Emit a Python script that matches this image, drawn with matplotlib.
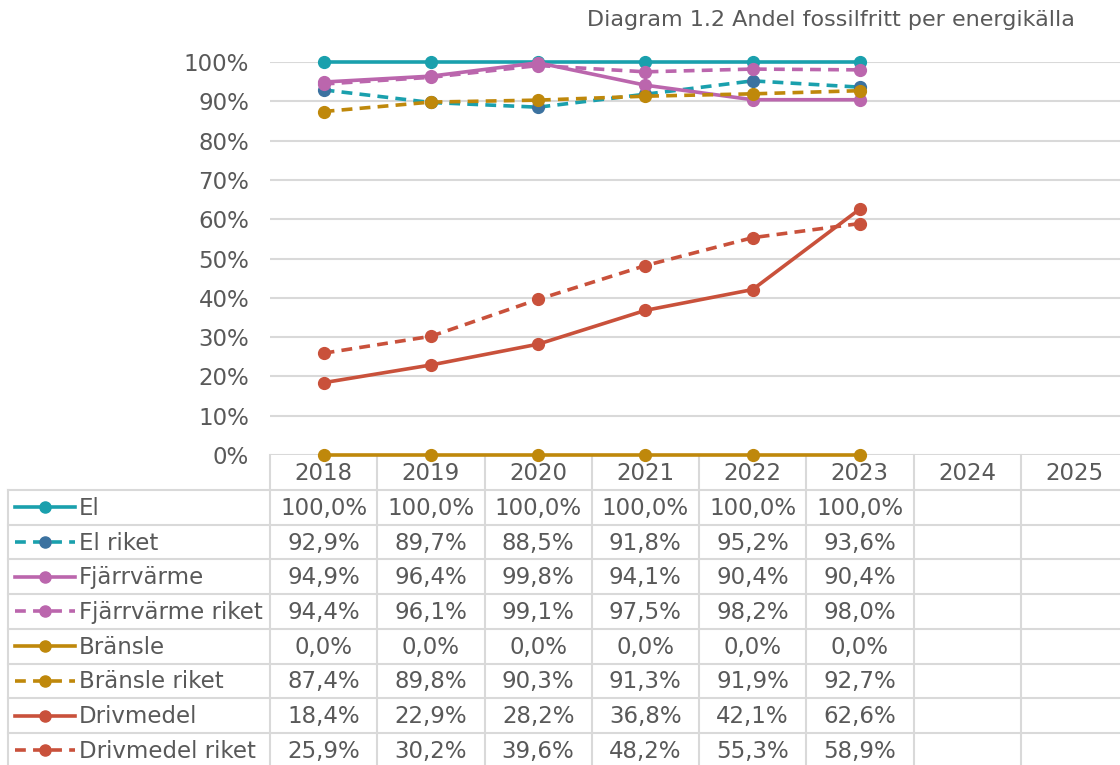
import matplotlib
matplotlib.use("Agg")
import matplotlib.pyplot as plt
from matplotlib.lines import Line2D
from matplotlib.transforms import blended_transform_factory

# data (percent)
years = ["2018", "2019", "2020", "2021", "2022", "2023", "2024", "2025"]
series_names = ["El", "El riket", "Fjärrvärme", "Fjärrvärme riket",
                "Bränsle", "Bränsle riket", "Drivmedel", "Drivmedel riket"]
el = [100.0, 100.0, 100.0, 100.0, 100.0, 100.0]
el_riket = [92.9, 89.7, 88.5, 91.8, 95.2, 93.6]
fjarrvarme = [94.9, 96.4, 99.8, 94.1, 90.4, 90.4]
fjarrvarme_riket = [94.4, 96.1, 99.1, 97.5, 98.2, 98.0]
bransle = [0.0, 0.0, 0.0, 0.0, 0.0, 0.0]
bransle_riket = [87.4, 89.8, 90.3, 91.3, 91.9, 92.7]
drivmedel = [18.4, 22.9, 28.2, 36.8, 42.1, 62.6]
drivmedel_riket = [25.9, 30.2, 39.6, 48.2, 55.3, 58.9]

values = [el, el_riket, fjarrvarme, fjarrvarme_riket,
          bransle, bransle_riket, drivmedel, drivmedel_riket]

TEAL = "#1aa0ad"
BLUE = "#3c72a0"
PINK = "#bb66ad"
GOLD = "#bf880b"
RED = "#c9513b"
GREY = "#595959"
GRID = "#d9d9d9"

line_colors = [TEAL, TEAL, PINK, PINK, GOLD, GOLD, RED, RED]
marker_colors = [TEAL, BLUE, PINK, PINK, GOLD, GOLD, RED, RED]
dashed = [False, True, False, True, False, True, False, True]
DASH = (0, (3, 2))

W, H = 1120, 765
FS = 16.5

fig = plt.figure(figsize=(W / 100, H / 100), dpi=100)

# chart area
ax = fig.add_axes([270 / W, 1 - 455 / H, 858 / W, 393 / H])
ax.set_zorder(2)
ax.patch.set_visible(False)
ax.set_xlim(-0.5, len(years) - 0.5)
ax.set_ylim(0, 100)
ax.set_yticks(range(0, 101, 10))
ax.set_yticklabels([f"{t}%" for t in range(0, 101, 10)], fontsize=FS, color=GREY)
ax.tick_params(axis="y", length=0, pad=15)
ax.set_xticks([])
ax.yaxis.grid(True, color=GRID, lw=1.5)
ax.set_axisbelow(True)
for sp in ax.spines.values():
    sp.set_visible(False)

x = list(range(len(el)))
for vals, lc, mc, d in zip(values, line_colors, marker_colors, dashed):
    ax.plot(x, vals, color=lc, lw=2.6, linestyle=DASH if d else "-",
            marker="o", markersize=8.5, markerfacecolor=mc, markeredgecolor=mc,
            clip_on=False, zorder=3)

# data table
tab = fig.add_axes([0, 0, 1, 1])
tab.set_zorder(1)
tab.set_xlim(0, W)
tab.set_ylim(H, 0)
tab.axis("off")
blend = blended_transform_factory(ax.transData, tab.transData)

head_top, row_top, row_h = 455, 490, 34.7
n_rows = len(series_names)
bottom = row_top + n_rows * row_h

for i in range(len(years) + 1):
    tab.plot([i - 0.5, i - 0.5], [head_top, bottom], color=GRID, lw=1.5,
             transform=blend, clip_on=False)
tab.plot([8, 8], [row_top, bottom], color=GRID, lw=1.5)
for k in range(n_rows + 1):
    tab.plot([8, W], [row_top + k * row_h] * 2, color=GRID, lw=1.5)

for i, yr in enumerate(years):
    tab.text(i, (head_top + row_top) / 2 + 1, yr, transform=blend,
             ha="center", va="center", fontsize=FS, color=GREY)

for k, (name, vals) in enumerate(zip(series_names, values)):
    yc = row_top + (k + 0.5) * row_h
    tab.add_line(Line2D([15, 75], [yc, yc], color=line_colors[k], lw=2.6,
                        linestyle=DASH if dashed[k] else "-"))
    tab.plot([45], [yc], marker="o", markersize=8, color=marker_colors[k])
    tab.text(79, yc + 1, name, ha="left", va="center", fontsize=FS, color=GREY)
    for i, v in enumerate(vals):
        tab.text(i, yc + 1, f"{v:.1f}%".replace(".", ","), transform=blend,
                 ha="center", va="center", fontsize=FS, color=GREY)

fig.text(1075 / W, 1 - 20 / H, "Diagram 1.2 Andel fossilfritt per energikälla",
         ha="right", va="center", fontsize=16, color=GREY)

fig.savefig("out.png", dpi=100)
